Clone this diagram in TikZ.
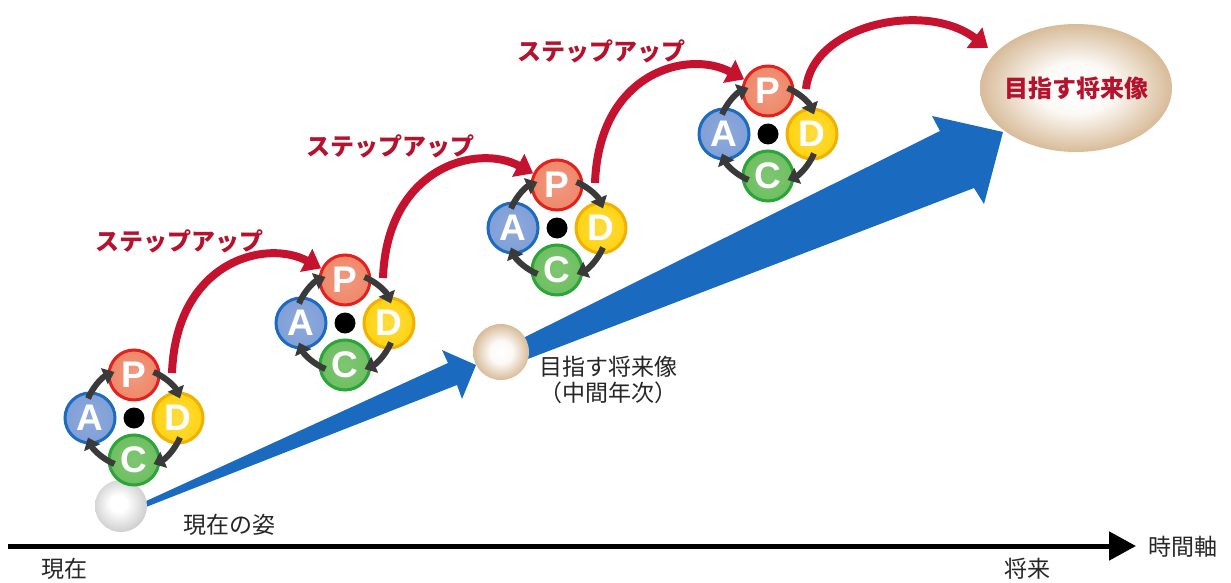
\documentclass[tikz,border=0pt]{standalone}
\usepackage{fontspec}
\setmainfont{Liberation Sans}
\newfontfamily\jp{Noto Sans CJK JP}
\usetikzlibrary{arrows.meta,calc,shapes.geometric}
\definecolor{pfill}{HTML}{EE8060}
\definecolor{pring}{HTML}{E3201E}
\definecolor{afill}{HTML}{7A9BD6}
\definecolor{aring}{HTML}{1C6BBF}
\definecolor{dfill}{HTML}{FFD000}
\definecolor{dring}{HTML}{F2B000}
\definecolor{cfill}{HTML}{68BC5A}
\definecolor{cring}{HTML}{2BA43A}
\definecolor{cyc}{HTML}{3A3A3A}
\definecolor{stepred}{HTML}{C4122F}
\definecolor{labred}{HTML}{B5122E}
\definecolor{arrblue}{HTML}{1A6AC0}
\definecolor{goaltan}{HTML}{C0925A}
\definecolor{ballgray}{HTML}{B8B8B8}
\pgfdeclareradialshading{graysph}{\pgfpoint{-3bp}{3bp}}{color(0bp)=(white); color(8bp)=(white); color(35bp)=(ballgray); color(50bp)=(ballgray)}
\pgfdeclareradialshading{tansph}{\pgfpoint{0bp}{0bp}}{color(0bp)=(white); color(10bp)=(white!95!goaltan); color(35bp)=(goaltan); color(50bp)=(goaltan)}
\pgfdeclareradialshading{pshade}{\pgfpoint{0bp}{0bp}}{color(0bp)=(pfill!80!white); color(35bp)=(pfill); color(50bp)=(pfill)}
\pgfdeclareradialshading{ashade}{\pgfpoint{0bp}{0bp}}{color(0bp)=(afill!85!white); color(35bp)=(afill); color(50bp)=(afill)}
\pgfdeclareradialshading{dshade}{\pgfpoint{0bp}{0bp}}{color(0bp)=(dfill!75!white); color(35bp)=(dfill); color(50bp)=(dfill)}
\pgfdeclareradialshading{cshade}{\pgfpoint{0bp}{0bp}}{color(0bp)=(cfill!85!white); color(35bp)=(cfill); color(50bp)=(cfill)}
\newcommand\pdcafont{\bfseries\fontsize{37}{37}\selectfont}
\newcommand\steplabfont{\jp\bfseries\fontsize{24}{24}\selectfont}
\newcommand\blkfont{\jp\fontsize{23}{26}\selectfont}
\newcommand\goalfont{\jp\bfseries\fontsize{24}{24}\selectfont}
\newcommand\pdcagroup[2]{%
  \coordinate (#1o) at (#2);
  \node[hubdot] (#1dot) at (#1o) {};
  \node[pnode] (#1P) at ($(#1o)+(0,-43)$) {P};
  \node[anode] (#1A) at ($(#1o)+(-44,0)$) {A};
  \node[dnode] (#1D) at ($(#1o)+(44,0)$) {D};
  \node[cnode] (#1C) at ($(#1o)+(0,42)$) {C};
  \draw[cycarrow] ($(#1o)+(-157:50)$) arc[start angle=-157,end angle=-113,radius=50];
  \draw[cycarrow] ($(#1o)+(-67:50)$) arc[start angle=-67,end angle=-23,radius=50];
  \draw[cycarrow] ($(#1o)+(23:50)$) arc[start angle=23,end angle=67,radius=50];
  \draw[cycarrow] ($(#1o)+(113:50)$) arc[start angle=113,end angle=157,radius=50];
}
\begin{document}
\begin{tikzpicture}[x=1pt,y=-1pt,
  pdcabase/.style={circle, minimum size=50pt, inner sep=0pt, line width=3pt, text=white, font=\pdcafont, shade},
  pnode/.style={pdcabase, draw=pring, shading=pshade},
  anode/.style={pdcabase, draw=aring, shading=ashade},
  dnode/.style={pdcabase, draw=dring, shading=dshade},
  cnode/.style={pdcabase, draw=cring, shading=cshade},
  hubdot/.style={circle, fill=black, minimum size=21pt, inner sep=0pt},
  cycarrow/.style={draw=cyc, line width=6pt, -{Triangle[length=11pt,width=17pt]}},
  steparrow/.style={draw=stepred, line width=8pt, -{Triangle[length=17pt,width=25pt]}},
  steplab/.style={font=\steplabfont, text=labred, inner sep=0pt},
  blktext/.style={font=\blkfont, text=black!85, inner sep=0pt},
  axisline/.style={line width=5pt, -{Triangle[length=27pt,width=28pt]}},
  ball/.style={circle, inner sep=0pt, shade}]
\fill[white] (0,0) rectangle (1231,583);
\useasboundingbox (0,0) rectangle (1231,583);
% blue progress arrows
\fill[arrblue] (144,502) -- (448,363) -- (442,350) -- (476,365) -- (462,399) -- (457,385) -- (146,507) -- cycle;
\fill[arrblue] (515,342) -- (940,131) -- (932,116) -- (1003,132) -- (984,204) -- (974,188) -- (520,362) -- cycle;
% spheres
\node[ball, minimum size=52pt, shading=graysph] (nowball) at (121,506) {};
\node[ball, minimum size=56pt, shading=tansph] (midball) at (501,352) {};
\node[ellipse, inner sep=0pt, minimum width=192pt, minimum height=128pt, shade, shading=tansph] (goal) at (1076,88) {};
\node[font=\goalfont, text=labred, inner sep=0pt] (goaltext) at (goal.center) {目指す将来像};
% PDCA groups
\pdcagroup{g1}{134,418}
\pdcagroup{g2}{345,323}
\pdcagroup{g3}{557,228}
\pdcagroup{g4}{768,134}
% step-up arrows
\coordinate (s1) at (172,373);
\coordinate (s2) at (383,278);
\coordinate (s3) at (595,183);
\coordinate (s4) at (806,89);
\coordinate (e4) at (988,48);
\draw[steparrow] (s1) .. controls +(4,-111) and +(-56,-30) .. (g2P.154);
\draw[steparrow] (s2) .. controls +(4,-111) and +(-56,-30) .. (g3P.154);
\draw[steparrow] (s3) .. controls +(4,-111) and +(-56,-30) .. (g4P.154);
\draw[steparrow] (s4) .. controls +(6,-64) and +(-63,-48) .. (e4);
% labels
\node[steplab] (st1) at (179,241) {ステップアップ};
\node[steplab] (st2) at (390,146) {ステップアップ};
\node[steplab] (st3) at (601,51) {ステップアップ};
\node[blktext] (nowlab) at (229,525) {現在の姿};
\node[blktext, align=center] (midlab) at (608,380) {目指す将来像\\（中間年次）};
% time axis
\coordinate (axs) at (8,546);
\coordinate (axe) at (1136,546);
\draw[axisline] (axs) -- (axe);
\node[blktext] (axlab) at (1183,547) {時間軸};
\node[blktext] (nowt) at (64,569) {現在};
\node[blktext] (futt) at (1027,569) {将来};
\end{tikzpicture}
\end{document}
